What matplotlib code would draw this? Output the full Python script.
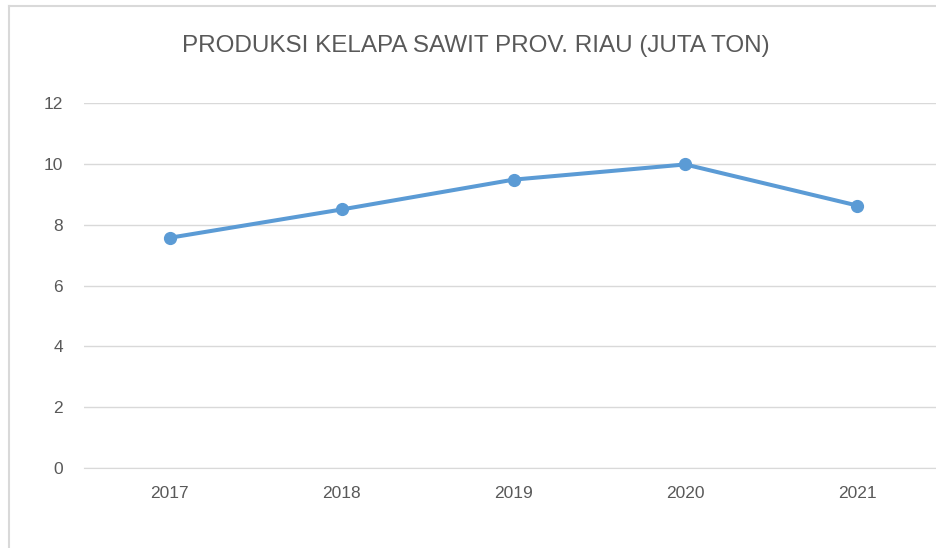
import matplotlib as mpl
mpl.use('Agg')
import matplotlib.pyplot as plt
from matplotlib.lines import Line2D

plt.rcParams['font.family'] = ['Liberation Sans Narrow', 'Liberation Sans', 'DejaVu Sans']

years = ['2017', '2018', '2019', '2020', '2021']
produksi = [7.57, 8.50, 9.48, 9.98, 8.63]
y_ticks = [0, 2, 4, 6, 8, 10, 12]

title = 'PRODUKSI KELAPA SAWIT PROV. RIAU (JUTA TON)'
text_c = '#595959'
grid_c = '#D9D9D9'
line_c = '#5B9BD5'

W, H = 936, 548
fig = plt.figure(figsize=(W / 100, H / 100), dpi=100)
fig.patch.set_facecolor('white')

# plot area in pixel coords -> figure fraction
left, right = 84 / W, 943 / W
bottom, top = (H - 468) / H, (H - 103) / H
ax = fig.add_axes([left, bottom, right - left, top - bottom])

x = range(len(years))
ax.plot(x, produksi, color=line_c, lw=2.9, marker='o', ms=8.5,
        solid_capstyle='round', zorder=3, clip_on=False)

ax.set_xlim(-0.5, len(years) - 0.5)
ax.set_ylim(0, 12)
ax.set_yticks(y_ticks)
ax.set_xticks(list(x))
ax.set_xticklabels(years)
ax.yaxis.grid(True, color=grid_c, lw=1)
ax.set_axisbelow(True)
for s in ['left', 'right', 'top']:
    ax.spines[s].set_visible(False)
ax.spines['bottom'].set_color(grid_c)
ax.tick_params(axis='both', length=0, colors=text_c, labelsize=12.5)
ax.tick_params(axis='y', pad=15)
ax.tick_params(axis='x', pad=13)

fig.text(476 / W, 1 - 46 / H, title, ha='center', va='center',
         fontsize=17.5, color=text_c)

# chart border (top and left visible)
fig.add_artist(Line2D([9 / W, 1], [1 - 5.5 / H, 1 - 5.5 / H],
                      transform=fig.transFigure, color=grid_c, lw=1.5))
fig.add_artist(Line2D([9 / W, 9 / W], [0, 1 - 5.5 / H],
                      transform=fig.transFigure, color=grid_c, lw=1.5))

plt.savefig('out.png', dpi=100)
